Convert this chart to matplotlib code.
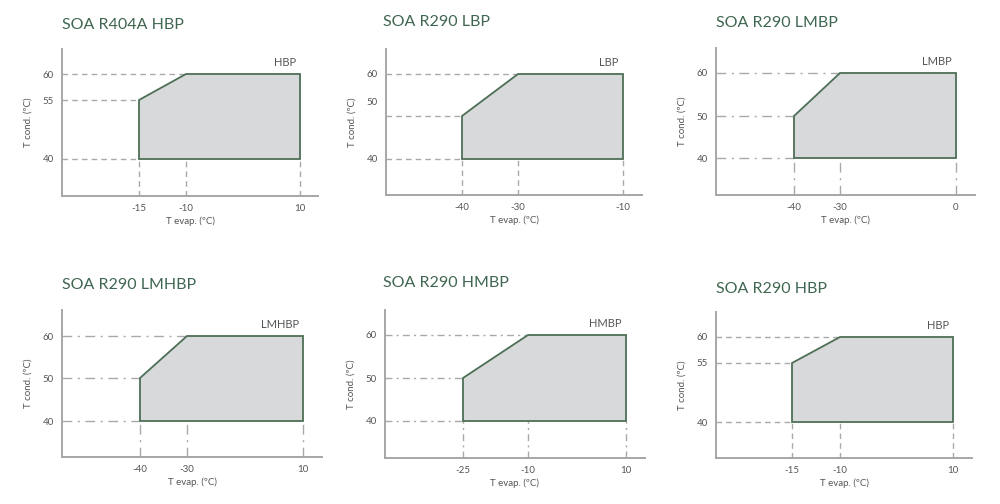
import matplotlib
matplotlib.use('Agg')
import matplotlib.pyplot as plt
import matplotlib.transforms as mtrans
import numpy as np

########################################################################
# Data: operating envelopes (T evap, T cond) for each compressor type

titles = ['SOA R404A HBP', 'SOA R290 LBP', 'SOA R290 LMBP',
          'SOA R290 LMHBP', 'SOA R290 HMBP', 'SOA R290 HBP']
regions = ['HBP', 'LBP', 'LMBP', 'LMHBP', 'HMBP', 'HBP']

env_x = [[-15, -15, -10, 10, 10],
         [-40, -40, -30, -10, -10],
         [-40, -40, -30, 0, 0],
         [-40, -40, -30, 10, 10],
         [-25, -25, -10, 10, 10],
         [-15, -15, -10, 10, 10]]
env_y = [[40, 55, 60, 60, 40],
         [40, 50, 60, 60, 40],
         [40, 50, 60, 60, 40],
         [40, 50, 60, 60, 40],
         [40, 50, 60, 60, 40],
         [40, 55, 60, 60, 40]]

x_ticks = [[-15, -10, 10],
           [-40, -30, -10],
           [-40, -30, 0],
           [-40, -30, 10],
           [-25, -10, 10],
           [-15, -10, 10]]
y_ticks = [[40, 55, 60],
           [40, 50, 60],
           [40, 50, 60],
           [40, 50, 60],
           [40, 50, 60],
           [40, 55, 60]]

########################################################################
# Layout (pixels of a 1000x504 canvas): the drawings are not to scale,
# so each axis gets a piecewise-linear scale through its tick positions

W, H = 1000, 504
# axes box: left, top, right, bottom
boxes = [(62, 49, 318, 196), (386, 49, 642, 195), (716, 48, 975, 195),
         (62, 310, 322, 457), (385, 310, 645, 458), (716, 312, 972, 458)]
x_pix = [[139, 186, 300], [462, 518, 623], [794, 840, 956],
         [140, 187, 303], [463, 528, 626], [792, 840, 953]]
y_pix = [[159, 100, 74], [159, 116, 74], [158, 116, 73],
         [421, 378, 336], [421, 378, 335], [422, 363, 337]]
title_pos = [(62, 25), (383, 22), (716, 23), (62, 285), (383, 283), (716, 289)]
styles = [(0, (4, 3)), (0, (4, 3)), (0, (7, 4, 1.5, 4)),
          (0, (7, 4, 1.5, 4)), (0, (5, 3, 1.5, 3)), (0, (4, 3))]

plt.rcParams['font.family'] = ['Lato', 'DejaVu Sans']
plt.rcParams['font.size'] = 7

TEXT = '#555555'
GREEN_T = '#3f6650'
EDGE = '#4d6f56'
FILL = '#d8d9da'
AXIS = '#a6a6a6'
REF = '#a9a9a9'


def pw(v, xp, fp):
    v = np.asarray(v, dtype=float)
    out = np.interp(v, xp, fp)
    lo = fp[0] + (v - xp[0]) * (fp[1] - fp[0]) / (xp[1] - xp[0])
    hi = fp[-1] + (v - xp[-1]) * (fp[-1] - fp[-2]) / (xp[-1] - xp[-2])
    out = np.where(v < xp[0], lo, out)
    out = np.where(v > xp[-1], hi, out)
    return out


def make_funcs(vals, pix):
    order = np.argsort(vals)
    xp = np.array(vals, dtype=float)[order]
    fp = np.array(pix, dtype=float)[order]
    return (lambda v: pw(v, xp, fp)), (lambda p: pw(p, fp, xp))


fig = plt.figure(figsize=(W / 100, H / 100), dpi=100)

for i in range(6):
    l, t, r, b = boxes[i]
    ax = fig.add_axes([l / W, 1 - b / H, (r - l) / W, (b - t) / H])

    fx, ix = make_funcs(x_ticks[i], x_pix[i])
    fy, iy = make_funcs(y_ticks[i], [-p for p in y_pix[i]])
    ax.set_xscale('function', functions=(fx, ix))
    ax.set_yscale('function', functions=(fy, iy))
    ax.set_xlim(float(ix(l)), float(ix(r)))
    ax.set_ylim(float(iy(-b)), float(iy(-t)))

    xs = np.array(env_x[i])
    ys = np.array(env_y[i])
    x0 = ax.get_xlim()[0]
    y0 = ax.get_ylim()[0]

    # reference lines from the axes to the envelope
    for yt in y_ticks[i]:
        ax.plot([x0, xs[ys == yt].min()], [yt, yt], color=REF, lw=1.0,
                linestyle=styles[i], zorder=2, clip_on=False)
    for xt in x_ticks[i]:
        ax.plot([xt, xt], [y0, ys.min()], color=REF, lw=1.0,
                linestyle=styles[i], zorder=2, clip_on=False)

    ax.fill(xs, ys, facecolor=FILL, edgecolor=EDGE, lw=1.3, zorder=3)

    ax.annotate(regions[i], xy=(xs.max(), ys.max()), xytext=(-3, 4),
                textcoords='offset points', ha='right', va='bottom',
                fontsize=8, color=TEXT)

    ax.set_xticks(x_ticks[i])
    ax.set_yticks(y_ticks[i])
    ax.set_xticklabels([str(v) for v in x_ticks[i]])
    ax.set_yticklabels([str(v) for v in y_ticks[i]])
    ax.tick_params(length=0, colors=TEXT, labelsize=7)
    ax.tick_params(axis='x', pad=6)
    ax.tick_params(axis='y', pad=6)

    ax.set_xlabel('T evap. (ºC)', color=TEXT, fontsize=7, labelpad=2)
    ax.set_ylabel('T cond. (ºC)', color=TEXT, fontsize=7, labelpad=7)

    for s in ['top', 'right']:
        ax.spines[s].set_visible(False)
    for s in ['left', 'bottom']:
        ax.spines[s].set_color(AXIS)
        ax.spines[s].set_linewidth(1.4)
    ax.set_facecolor('none')

    fig.text(title_pos[i][0] / W, 1 - title_pos[i][1] / H, titles[i],
             fontsize=11.5, color=GREEN_T, ha='left', va='center')

    # the "50" label on the LBP drawing sits above its line
    if i == 1:
        lab = ax.get_yticklabels()[1]
        lab.set_transform(lab.get_transform() +
                          mtrans.ScaledTranslation(0, 14 / 100, fig.dpi_scale_trans))

plt.savefig('out.png', dpi=100)
